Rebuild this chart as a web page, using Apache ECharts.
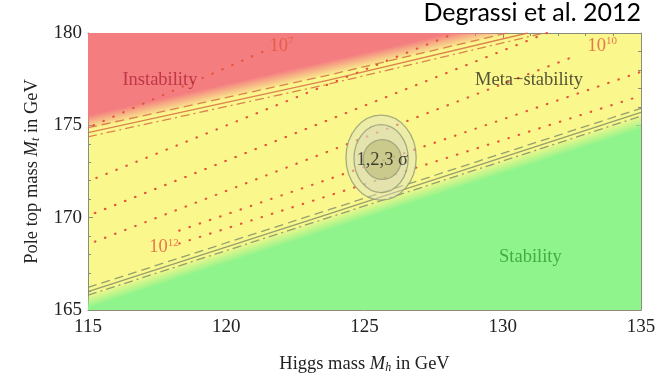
<!DOCTYPE html>
<html><head><meta charset="utf-8">
<script src="https://cdn.jsdelivr.net/npm/echarts@6/dist/echarts.min.js"></script>
<style>html,body{margin:0;padding:0;background:#fff}#c{width:658px;height:373px}</style>
</head><body><div id="c"></div>
<script>
// ---- data (Higgs mass Mh [GeV], top mass Mt [GeV]) ----
const xTicks = [115, 120, 125, 130, 135];
const yTicks = [165, 170, 175, 180];
// instability boundary (central, upper dashed, lower dash-dot)
const instCentral = [[115, 174.6], [123.7, 177.45], [130.9, 180]];
const instUpper   = [[115, 174.87], [123.7, 177.72], [130.15, 180]];
const instLower   = [[115, 174.38], [123.7, 177.23], [131.5, 180]];
// stability boundary
const stabCentral = [[115, 166.0], [123.8, 170.25], [135, 175.7]];
const stabUpper   = [[115, 166.22], [123.8, 170.47], [135, 175.92]];
const stabLower   = [[115, 165.8], [123.8, 170.05], [135, 175.5]];
// dotted instability-scale contours
const contour7  = [[115.2, 175.0], [121.5, 179.1]];
const contour8  = [[115.3, 172.15], [128.3, 180]];
const contour9  = [[115.25, 170.25], [131.6, 180]];
const contour10 = [[115.25, 168.7], [132.7, 178.8]];
const contour11 = [[118.3, 169.3], [135, 177.9]];
const contour12 = [[118.3, 168.6], [135, 176.6]];
// 1,2,3 sigma contours: [centre Mh, centre Mt, half-width Mh, half-height Mt]
const sigma3 = [125.6, 173.25, 1.27, 2.3];
const sigma2 = [125.6, 173.2, 0.98, 1.84];
const sigma1 = [125.64, 173.15, 0.69, 1.08];
// annotations
const annoText = ['Instability', '10^7', 'Meta\u2212stability', '10^10', '1,2,3 \u03c3', '10^12', 'Stability'];
const annoMh   = [117.6, 122.0, 130.95, 133.6, 125.64, 117.75, 131.0];
const annoMt   = [177.45, 179.3, 177.45, 179.3, 173.12, 168.4, 167.87];

// ---- styles ----
const SERIF = '"Liberation Serif", "DejaVu Serif", serif';
const RED = '#f47d80', YEL = '#faf78d', GRN = '#8ef48b';
const DOT = '#e6553a';
const annoColor = ['#b3263a', DOT, '#2a2a20', DOT, '#1a1a1a', DOT, '#2f9a36'];

function regionSeries(boundary, corners, color, fadeFrom, fadeTo) {
  return {
    type: 'custom', coordinateSystem: 'cartesian2d', data: [0], silent: true, z: 1, clip: true,
    renderItem(params, api) {
      const pts = boundary.map(p => api.coord(p));
      const cs = corners.map(p => api.coord(p));
      const a = pts[0], b = pts[pts.length - 1];
      const dx = b[0] - a[0], dy = b[1] - a[1], L = Math.hypot(dx, dy);
      let nx = -dy / L, ny = dx / L;
      const cx = cs[0][0] - a[0], cy = cs[0][1] - a[1];
      if (nx * cx + ny * cy < 0) { nx = -nx; ny = -ny; }
      const g = new echarts.graphic.LinearGradient(
        a[0] + nx * fadeFrom, a[1] + ny * fadeFrom, a[0] + nx * fadeTo, a[1] + ny * fadeTo,
        [{ offset: 0, color: echarts.color.modifyAlpha(color, 0) }, { offset: 1, color: color }], true);
      return { type: 'polygon', shape: { points: pts.concat(cs) }, style: { fill: g } };
    }
  };
}
function lineSeries(data, color, width, type, cap) {
  return { type: 'line', data: data, showSymbol: false, silent: true, z: 3,
    lineStyle: { color: color, width: width, type: type, cap: cap || 'butt' } };
}
function sigmaSeries(sig, fill, stroke) {
  return { type: 'custom', data: [sig], silent: true, z: 4,
    renderItem(params, api) {
      const c = api.coord([api.value(0), api.value(1)]);
      const s = api.size([api.value(2), api.value(3)]);
      return { type: 'ellipse', shape: { cx: c[0], cy: c[1], rx: s[0], ry: s[1] },
        style: { fill: fill, stroke: stroke, lineWidth: 1.3 } };
    } };
}
function fmtLabel(t) {
  const m = t.match(/^10\^(\d+)$/);
  if (m) return '{b|10}{sup|' + m[1] + '}';
  return '{b|' + t + '}';
}
const annoData = annoText.map((t, i) => ({ value: [annoMh[i], annoMt[i]],
  label: { formatter: fmtLabel(t), rich: {
    b: { fontFamily: SERIF, fontSize: 18.5, color: annoColor[i] },
    sup: { fontFamily: SERIF, fontSize: 11, color: annoColor[i], verticalAlign: 'top', padding: [0, 0, 9, 0] } } } }));

const axisCommon = {
  type: 'value', splitLine: { show: false },
  axisLine: { show: true, lineStyle: { color: '#8c8c7c', width: 1 } },
  axisTick: { show: true, inside: true, length: 5, lineStyle: { color: '#8c8c7c' } },
  minorTick: { show: true, splitNumber: 5, length: 3, lineStyle: { color: '#8c8c7c' } },
};
const lab = { fontFamily: SERIF, fontSize: 19, color: '#222' };
const nameRich = { n: { fontFamily: SERIF, fontSize: 18.5, color: '#222' },
  i: { fontFamily: SERIF, fontSize: 18.5, fontStyle: 'italic', color: '#222' },
  s: { fontFamily: SERIF, fontSize: 12, fontStyle: 'italic', color: '#222', verticalAlign: 'bottom', padding: [7, 0, 0, 0] } };

const chart = echarts.init(document.getElementById('c'));
const dotted = [0.5, 10.3];
const instCol = 'rgba(215,110,70,0.85)', stabCol = 'rgba(120,140,100,0.8)';
chart.setOption({
  animation: false,
  grid: { left: 88, right: 17, top: 33, bottom: 63, show: true, backgroundColor: YEL, borderWidth: 0,
    containLabel: false, outerBoundsMode: 'none' },
  xAxis: [
    Object.assign({}, axisCommon, { min: xTicks[0], max: xTicks[xTicks.length - 1], interval: 5, position: 'bottom',
      axisLabel: Object.assign({ margin: 8 }, lab),
      name: '{n|Higgs mass }{i|M}{s|h}{n| in GeV}', nameLocation: 'middle', nameGap: 45,
      nameTextStyle: { rich: nameRich } }),
    Object.assign({}, axisCommon, { min: xTicks[0], max: xTicks[xTicks.length - 1], interval: 5, position: 'top', axisLabel: { show: false } })
  ],
  yAxis: [
    Object.assign({}, axisCommon, { min: yTicks[0], max: yTicks[yTicks.length - 1], interval: 5, position: 'left',
      axisLabel: Object.assign({ margin: 6 }, lab),
      name: '{n|Pole top mass }{i|M}{s|t}{n| in GeV}', nameLocation: 'middle', nameGap: 46, nameRotate: 90,
      nameTextStyle: { rich: nameRich } }),
    Object.assign({}, axisCommon, { min: yTicks[0], max: yTicks[yTicks.length - 1], interval: 5, position: 'right', axisLabel: { show: false } })
  ],
  graphic: [{ type: 'text', right: 17, top: 0, style: { text: 'Degrassi et al. 2012', font: '25px Lato, "Open Sans", sans-serif', fill: '#000' } }],
  series: [
    regionSeries(instCentral, [[115, 180]], RED, 2, 17),
    regionSeries(stabCentral, [[135, 165], [115, 165]], GRN, 2, 16),
    lineSeries(contour7, DOT, 2.2, dotted, 'round'),
    lineSeries(contour8, DOT, 2.2, dotted, 'round'),
    lineSeries(contour9, DOT, 2.2, dotted, 'round'),
    lineSeries(contour10, DOT, 2.2, dotted, 'round'),
    lineSeries(contour11, DOT, 2.2, dotted, 'round'),
    lineSeries(contour12, DOT, 2.2, dotted, 'round'),
    lineSeries(instCentral, instCol, 1.3, 'solid'),
    lineSeries(instUpper, instCol, 1.3, [9, 5]),
    lineSeries(instLower, instCol, 1.3, [9, 4, 2, 4]),
    lineSeries(stabCentral, stabCol, 1.3, 'solid'),
    lineSeries(stabUpper, stabCol, 1.3, [9, 5]),
    lineSeries(stabLower, stabCol, 1.3, [9, 4, 2, 4]),
    sigmaSeries(sigma3, 'rgba(225,225,200,0.45)', 'rgba(150,160,120,0.85)'),
    sigmaSeries(sigma2, 'rgba(215,215,185,0.45)', 'rgba(150,160,120,0.85)'),
    sigmaSeries(sigma1, 'rgba(170,170,100,0.45)', 'rgba(150,160,120,0.85)'),
    { type: 'scatter', data: annoData, symbolSize: 0, silent: true, z: 6,
      label: { show: true, position: 'inside' } }
  ]
});
</script></body></html>
